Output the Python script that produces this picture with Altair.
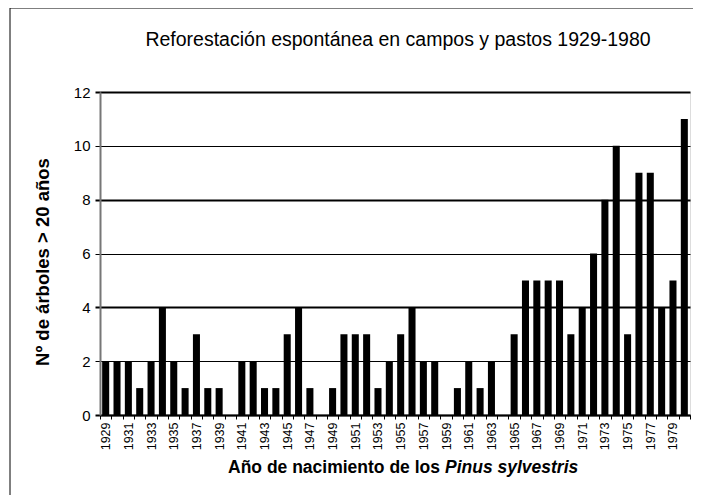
import altair as alt
import pandas as pd

years = [1929, 1930, 1931, 1932, 1933, 1934, 1935, 1936, 1937, 1938,
         1939, 1940, 1941, 1942, 1943, 1944, 1945, 1946, 1947, 1948,
         1949, 1950, 1951, 1952, 1953, 1954, 1955, 1956, 1957, 1958,
         1959, 1960, 1961, 1962, 1963, 1964, 1965, 1966, 1967, 1968,
         1969, 1970, 1971, 1972, 1973, 1974, 1975, 1976, 1977, 1978,
         1979, 1980]
arboles = [2, 2, 2, 1, 2, 4, 2, 1, 3, 1,
           1, 0, 2, 2, 1, 1, 3, 4, 1, 0,
           1, 3, 3, 3, 1, 2, 3, 4, 2, 2,
           0, 1, 2, 1, 2, 0, 3, 5, 5, 5,
           5, 3, 4, 6, 8, 10, 3, 9, 9, 4,
           5, 11]
y_ticks = [0, 2, 4, 6, 8, 10, 12]

title_text = "Reforestación espontánea en campos y pastos 1929-1980"
x_title_a = "Año de nacimiento de los"
x_title_b = "Pinus sylvestris"
y_title = "Nº de árboles > 20 años"

W, H = 590, 323
FONT = "Liberation Sans"

df = pd.DataFrame({"year": years, "n": arboles})

thick = {"condition": {"test": "datum.value % 4 === 0", "value": 2}, "value": 1}

base = alt.Chart(df)

bars = base.mark_bar(color="black", width={"band": 0.62}).encode(
    x=alt.X("year:O",
            scale=alt.Scale(paddingInner=0, paddingOuter=0),
            axis=alt.Axis(title=None, labelAngle=270, labelFontSize=12.5,
                          labelFont=FONT, labelColor="black",
                          labelExpr="datum.value % 2 == 1 ? datum.label : ''",
                          tickBand="extent", tickColor="black", tickSize=4,
                          domainColor="black", domainWidth=1.5,
                          labelPadding=3, grid=False)),
    y=alt.Y("n:Q",
            scale=alt.Scale(domain=[0, 12], nice=False),
            axis=alt.Axis(title=None, values=y_ticks, labelFontSize=15,
                          labelFont=FONT, labelColor="black",
                          tickColor="black", tickSize=5, tickWidth=thick,
                          domainColor="#777777", domainWidth=2,
                          grid=True, gridColor="black", gridWidth=thick,
                          gridOpacity=1, labelPadding=5)),
)

frame = alt.Chart(pd.DataFrame({"k": [0]})).mark_rect(
    fill=None, stroke="black", strokeWidth=1, clip=False
).encode(x=alt.value(-90), x2=alt.value(W + 60),
         y=alt.value(-84), y2=alt.value(H + 200))

txt = pd.DataFrame({"k": [0]})
title = alt.Chart(txt).mark_text(
    text=title_text, font=FONT, fontSize=19.5, color="black",
    align="center", baseline="middle"
).encode(x=alt.value(W / 2 + 3), y=alt.value(-52))

xa = alt.Chart(txt).mark_text(
    text=x_title_a, font=FONT, fontSize=17.5, fontWeight="bold", color="black",
    align="right", baseline="middle"
).encode(x=alt.value(340), y=alt.value(376))

xb = alt.Chart(txt).mark_text(
    text=x_title_b, font=FONT, fontSize=17.5, fontWeight="bold",
    fontStyle="italic", color="black",
    align="left", baseline="middle"
).encode(x=alt.value(345), y=alt.value(376))

yt = alt.Chart(txt).mark_text(
    text=y_title, font=FONT, fontSize=18.5, fontWeight="bold", color="black",
    angle=270, align="center", baseline="middle"
).encode(x=alt.value(-57), y=alt.value(170))

chart = alt.layer(frame, bars, title, xa, xb, yt).properties(
    width=W, height=H,
    padding={"left": 92, "top": 84, "right": 3, "bottom": 80},
    autosize=alt.AutoSizeParams(type="none"),
).configure_view(stroke="#777777", strokeWidth=1.5).configure(background="white")

chart.save("out.html", embed_options={"renderer": "svg", "actions": False})
